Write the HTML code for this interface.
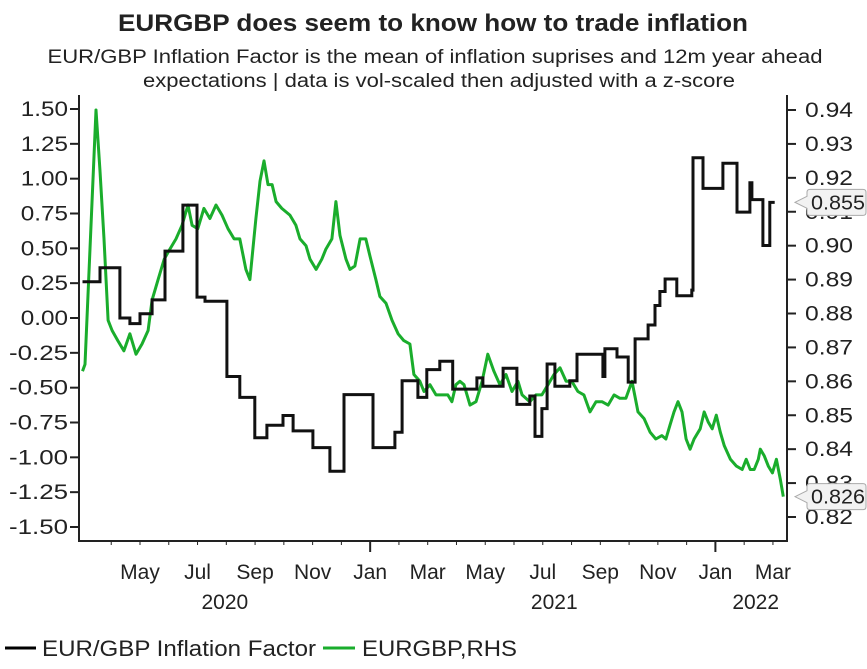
<!DOCTYPE html>
<html><head><meta charset="utf-8"><style>
body{margin:0;background:#fff;width:867px;height:669px;overflow:hidden;font-family:"Liberation Sans",Arial,sans-serif}
svg{display:block}
text{fill:#222}
</style></head><body>
<svg width="867" height="669">
<text x="433" y="31" text-anchor="middle" font-size="24" font-weight="bold" textLength="630" lengthAdjust="spacingAndGlyphs">EURGBP does seem to know how to trade inflation</text>
<text x="435" y="63" text-anchor="middle" font-size="19" textLength="775" lengthAdjust="spacingAndGlyphs">EUR/GBP Inflation Factor is the mean of inflation suprises and 12m year ahead</text>
<text x="439" y="87" text-anchor="middle" font-size="19" textLength="592" lengthAdjust="spacingAndGlyphs">expectations | data is vol-scaled then adjusted with a z-score</text>
<g id="axes"></g>
<g id="series"></g>
<g id="legend">
<line x1="5" y1="648" x2="36" y2="648" stroke="#000" stroke-width="3"/>
<text x="42" y="656" font-size="22" textLength="274" lengthAdjust="spacingAndGlyphs">EUR/GBP Inflation Factor</text>
<line x1="323" y1="648" x2="355" y2="648" stroke="#1aad2c" stroke-width="3"/>
<text x="362" y="656" font-size="22" textLength="155" lengthAdjust="spacingAndGlyphs">EURGBP,RHS</text>
</g>
</svg>
<script>
const greenMonths=[2.0,2.09,2.47,2.61,2.75,2.89,3.03,3.23,3.44,3.65,3.86,4.07,4.28,4.42,4.63,4.84,5.04,5.25,5.46,5.67,5.81,6.01,6.22,6.43,6.64,6.85,7.06,7.27,7.47,7.68,7.82,8.03,8.17,8.31,8.45,8.59,8.73,8.93,9.21,9.42,9.56,9.77,9.91,10.12,10.32,10.46,10.67,10.81,10.95,11.16,11.30,11.47,11.65,11.85,11.99,12.20,12.34,12.55,12.76,12.97,13.17,13.38,13.52,13.73,13.87,14.08,14.29,14.49,14.70,14.84,14.98,15.12,15.26,15.47,15.68,15.89,16.09,16.30,16.51,16.72,16.93,17.14,17.28,17.55,17.76,17.97,18.18,18.39,18.60,18.81,19.01,19.22,19.43,19.64,19.85,20.06,20.27,20.48,20.68,20.89,21.10,21.31,21.52,21.73,21.93,22.14,22.28,22.42,22.56,22.70,22.84,22.98,23.12,23.26,23.47,23.61,23.75,23.89,24.03,24.17,24.31,24.52,24.73,24.93,25.07,25.21,25.35,25.49,25.56,25.70,25.84,25.98,26.12,26.26,26.36];
const greenValues=[0.863,0.865,0.940,0.922,0.902,0.878,0.875,0.872,0.869,0.874,0.868,0.871,0.875,0.884,0.890,0.896,0.899,0.902,0.906,0.912,0.906,0.905,0.911,0.908,0.912,0.909,0.905,0.902,0.902,0.893,0.890,0.908,0.919,0.925,0.918,0.918,0.913,0.911,0.909,0.906,0.902,0.900,0.896,0.893,0.896,0.899,0.902,0.913,0.903,0.896,0.893,0.894,0.902,0.902,0.897,0.890,0.885,0.883,0.878,0.874,0.872,0.871,0.862,0.860,0.857,0.859,0.856,0.856,0.856,0.854,0.859,0.860,0.859,0.853,0.854,0.860,0.868,0.863,0.859,0.862,0.857,0.860,0.856,0.854,0.856,0.856,0.859,0.862,0.864,0.860,0.860,0.857,0.856,0.851,0.854,0.854,0.853,0.856,0.855,0.855,0.860,0.851,0.849,0.845,0.843,0.844,0.843,0.847,0.851,0.854,0.851,0.843,0.840,0.843,0.846,0.851,0.848,0.846,0.850,0.845,0.841,0.837,0.835,0.834,0.837,0.834,0.834,0.837,0.840,0.838,0.835,0.833,0.837,0.831,0.826];
const factorMonths=[2.0,2.61,3.30,3.65,4.0,4.42,4.87,5.49,5.98,6.26,7.02,7.47,7.99,8.41,8.97,9.32,10.01,10.60,11.09,12.10,12.86,13.11,13.66,13.97,14.42,14.87,15.71,15.92,16.62,17.10,17.55,17.73,17.97,18.15,18.42,18.94,19.19,20.09,20.16,20.58,20.97,21.21,21.66,21.90,22.07,22.25,22.66,23.18,23.22,23.57,24.26,24.75,25.20,25.27,25.65,25.89];
const factorValues=[0.26,0.36,0.00,-0.04,0.03,0.13,0.48,0.81,0.15,0.12,-0.42,-0.57,-0.86,-0.77,-0.70,-0.81,-0.93,-1.10,-0.55,-0.93,-0.82,-0.45,-0.57,-0.37,-0.31,-0.51,-0.43,-0.49,-0.36,-0.62,-0.56,-0.85,-0.65,-0.33,-0.49,-0.45,-0.26,-0.42,-0.22,-0.28,-0.46,-0.15,-0.05,0.09,0.19,0.28,0.16,0.20,1.15,0.93,1.11,0.76,0.97,0.85,0.52,0.83];
const factorEnd=26.06;
const leftTicks=[1.50,1.25,1.00,0.75,0.50,0.25,0.00,-0.25,-0.50,-0.75,-1.00,-1.25,-1.50];
const rightTicks=[0.94,0.93,0.92,0.91,0.90,0.89,0.88,0.87,0.86,0.85,0.84,0.83,0.82];
const monthLabels=["May","Jul","Sep","Nov","Jan","Mar","May","Jul","Sep","Nov","Jan","Mar"];
const monthPos=[4,6,8,10,12,14,16,18,20,22,24,26];
const yearLabels=["2020","2021","2022"];
const yearPos=[6.95,18.4,25.4];
const lastFactor="0.855", lastEurgbp="0.826";

const X0=79,X1=787,Y0=541;
const xS=m=>140+(m-4)*28.77;
const yL=v=>109+(1.5-v)*(418/3);
const yR=v=>110+(0.94-v)*(407/0.12);
const NS="http://www.w3.org/2000/svg";
function mk(tag,attrs,parent){const e=document.createElementNS(NS,tag);for(const k in attrs)e.setAttribute(k,attrs[k]);parent.appendChild(e);return e;}
const ax=document.getElementById('axes'),se=document.getElementById('series');
let e;
e=mk('path',{d:`M${X0},95V${Y0}H${X1}V95`,fill:'none',stroke:'#222','stroke-width':2},ax);


leftTicks.forEach(v=>{const y=yL(v);
 mk('line',{x1:X0-9,x2:X0,y1:y,y2:y,stroke:'#222','stroke-width':2},ax);
 const s=v.toFixed(2);
 e=mk('text',{x:X0-11,y:y+7,'text-anchor':'end','font-size':21,textLength:s.length*11.8,lengthAdjust:'spacingAndGlyphs'},ax);e.textContent=s;
 
 });
rightTicks.forEach(v=>{const y=yR(v);
 mk('line',{x1:X1,x2:X1+9,y1:y,y2:y,stroke:'#222','stroke-width':2},ax);
 e=mk('text',{x:X1+18,y:y+7,'font-size':21,textLength:48,lengthAdjust:'spacingAndGlyphs'},ax);e.textContent=v.toFixed(2);
 
 });
for(let m=3;m<=26;m++){const x=xS(m);const jan=(m%12===0);
 mk('line',{x1:x,x2:x,y1:Y0,y2:Y0+(jan?11:4),stroke:'#222','stroke-width':jan?2:1},ax);}
monthLabels.forEach((t,i)=>{e=mk('text',{x:xS(monthPos[i]),y:579,'text-anchor':'middle','font-size':21},ax);e.textContent=t;
 
 });
yearLabels.forEach((t,i)=>{e=mk('text',{x:xS(yearPos[i]),y:609,'text-anchor':'middle','font-size':21},ax);e.textContent=t;
 
 });
let d=greenMonths.map((m,i)=>(i?'L':'M')+xS(m).toFixed(1)+','+yR(greenValues[i]).toFixed(1)).join('');
e=mk('path',{d:d,fill:'none',stroke:'#1aad2c','stroke-width':3,'stroke-linejoin':'round'},se);


d='';factorMonths.forEach((m,i)=>{const x=xS(m).toFixed(1),y=yL(factorValues[i]).toFixed(1);d+=(i?'V'+y:'M'+x+','+y);const nx=i<factorMonths.length-1?factorMonths[i+1]:factorEnd;d+='H'+xS(nx).toFixed(1);});
e=mk('path',{d:d,fill:'none',stroke:'#111','stroke-width':3},se);


function callout(y,txt,name){const g=mk('g',{},ax);
 
 
 mk('path',{d:`M${X1+8},${y}L${X1+20},${y-6}V${y-10}Q${X1+20},${y-13} ${X1+23},${y-13}H863Q866,${y-13} 866,${y-10}V${y+10}Q866,${y+13} 863,${y+13}H${X1+23}Q${X1+20},${y+13} ${X1+20},${y+10}V${y+6}Z`,fill:'#f2f2f2',stroke:'#aaa','stroke-width':1},g);
 const t=mk('text',{x:X1+24,y:y+7,'font-size':20,textLength:54,lengthAdjust:'spacingAndGlyphs'},g);t.textContent=txt;}
callout(yL(factorValues[factorValues.length-1]),lastFactor,'factor-last-value-callout');
callout(yR(greenValues[greenValues.length-1]),lastEurgbp,'eurgbp-last-value-callout');
</script>
</body></html>
